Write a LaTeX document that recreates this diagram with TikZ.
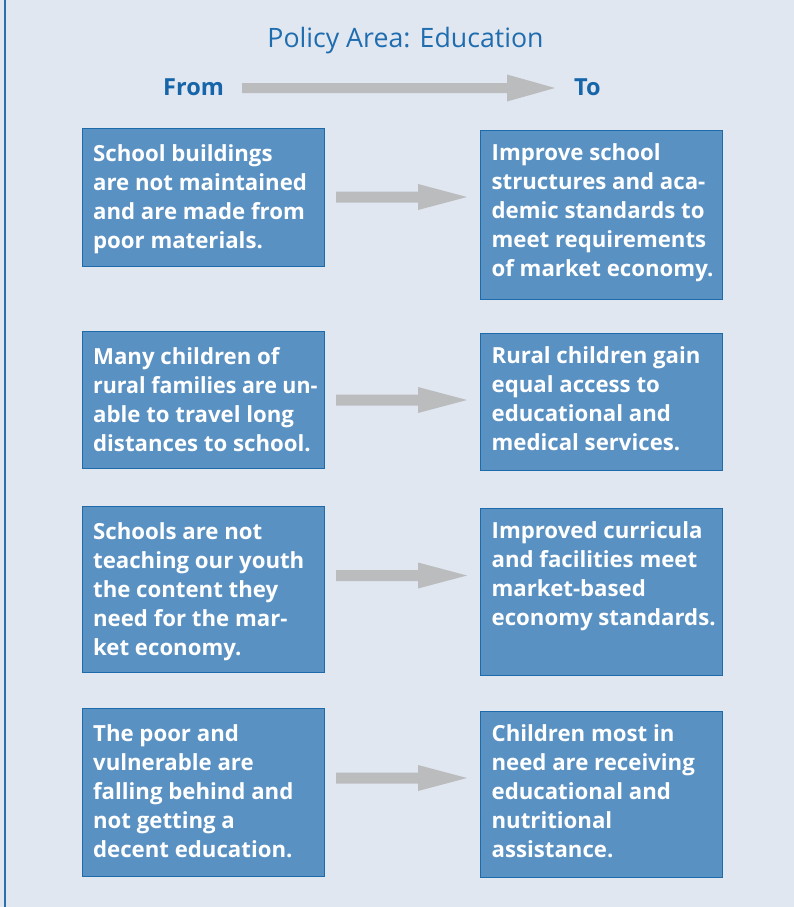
\documentclass[tikz,border=0pt]{standalone}
\usepackage{fontspec}
\usepackage{graphicx}
\setmainfont{Open Sans}
\usetikzlibrary{calc}
\definecolor{bgcol}{HTML}{E0E7F1}
\definecolor{boxfill}{HTML}{5A91C3}
\definecolor{boxline}{HTML}{1D6BAA}
\definecolor{arrowgray}{HTML}{BBBCBE}
\definecolor{titleblue}{HTML}{1F6DAE}
\definecolor{headblue}{HTML}{1565A8}
\definecolor{frameblue}{HTML}{2A6FAE}
\newcommand{\boxtxt}[4]{\hspace*{#1pt}\begin{minipage}[t][#2pt][t]{\dimexpr242pt-#1pt\relax}\raggedright\fontsize{22.2}{29}\selectfont\bfseries\color{white}\rule{0pt}{#3pt}#4\end{minipage}}
\newcommand{\tline}[1]{\mbox{#1}}
\newcommand{\tlinen}[1]{\scalebox{0.965}[1]{#1}}
\tikzset{
  flowbox/.style={draw=boxline, line width=1.3pt, fill=boxfill, inner sep=0pt, anchor=north west, minimum width=242pt},
  fatarrow/.style={fill=arrowgray},
}
\begin{document}
\begin{tikzpicture}[x=1pt,y=-1pt]
\fill[bgcol] (0,0) rectangle (794,907);
\useasboundingbox (0,0) rectangle (794,907);
\draw[frameblue, line width=1.5pt] (5,0) -- (5,907);

\node[anchor=base, text=titleblue, font=\fontsize{26.7}{32}\selectfont] (title) at (405.5,48) {Policy Area: Education};
\node[anchor=base west, inner sep=0pt, text=headblue, font=\fontsize{23.5}{28}\selectfont\bfseries] (from) at (163,95) {From};
\node[anchor=base west, inner sep=0pt, text=headblue, font=\fontsize{23.5}{28}\selectfont\bfseries] (to) at (574,95) {To};

% boxes
\node[flowbox, minimum height=138pt] (L1) at (82,128) {\boxtxt{10.5}{138}{33}{\tline{School buildings}\\\tline{are not maintained}\\\tline{and are made from}\\\tline{poor materials.}}};
\node[flowbox, minimum height=169pt] (R1) at (480,130) {\boxtxt{11}{169}{30}{\tline{Improve school}\\\tline{structures and aca-}\\\tline{demic standards to}\\\tline{meet requirements}\\\tline{of market economy.}}};
\node[flowbox, minimum height=137pt] (L2) at (82,331) {\boxtxt{10.5}{137}{33}{\tline{Many children of}\\\tlinen{rural families are un-}\\\tline{able to travel long}\\\tline{distances to school.}}};
\node[flowbox, minimum height=137pt] (R2) at (480,333) {\boxtxt{11}{137}{30}{\tline{Rural children gain}\\\tline{equal access to}\\\tline{educational and}\\\tline{medical services.}}};
\node[flowbox, minimum height=166pt] (L3) at (82,506) {\boxtxt{10.5}{166}{33}{\tline{Schools are not}\\\tline{teaching our youth}\\\tline{the content they}\\\tline{need for the mar-}\\\tline{ket economy.}}};
\node[flowbox, minimum height=167pt] (R3) at (480,508) {\boxtxt{11}{167}{30}{\tline{Improved curricula}\\\tline{and facilities meet}\\\tline{market-based}\\\tline{economy standards.}}};
\node[flowbox, minimum height=168pt] (L4) at (82,708) {\boxtxt{10.5}{168}{33}{\tline{The poor and}\\\tline{vulnerable are}\\\tline{falling behind and}\\\tline{not getting a}\\\tline{decent education.}}};
\node[flowbox, minimum height=166pt] (R4) at (480,711) {\boxtxt{11}{166}{30}{\tline{Children most in}\\\tline{need are receiving}\\\tline{educational and}\\\tline{nutritional}\\\tline{assistance.}}};

% arrow end points
\coordinate (t0) at (242,88);  \coordinate (t1) at (555,88);
\coordinate (a1s) at (336,197);  \coordinate (a1e) at (467,197);
\coordinate (a2s) at (336,400);  \coordinate (a2e) at (467,400);
\coordinate (a3s) at (336,575.5);\coordinate (a3e) at (467,575.5);
\coordinate (a4s) at (336,778);  \coordinate (a4e) at (467,778);

% top arrow
\fill[fatarrow] ($(t0)+(0,-5)$) -- ($(t1)+(-48,-5)$) -- ($(t1)+(-48,-13.5)$) -- (t1) -- ($(t1)+(-48,13.5)$) -- ($(t1)+(-48,5)$) -- ($(t0)+(0,5)$) -- cycle;
% row arrows
\foreach \s/\e in {a1s/a1e,a2s/a2e,a3s/a3e,a4s/a4e}{
  \fill[fatarrow] ($(\s)+(0,-5.5)$) -- ($(\e)+(-49,-5.5)$) -- ($(\e)+(-49,-13)$) -- (\e) -- ($(\e)+(-49,13)$) -- ($(\e)+(-49,5.5)$) -- ($(\s)+(0,5.5)$) -- cycle;
}
\end{tikzpicture}
\end{document}
